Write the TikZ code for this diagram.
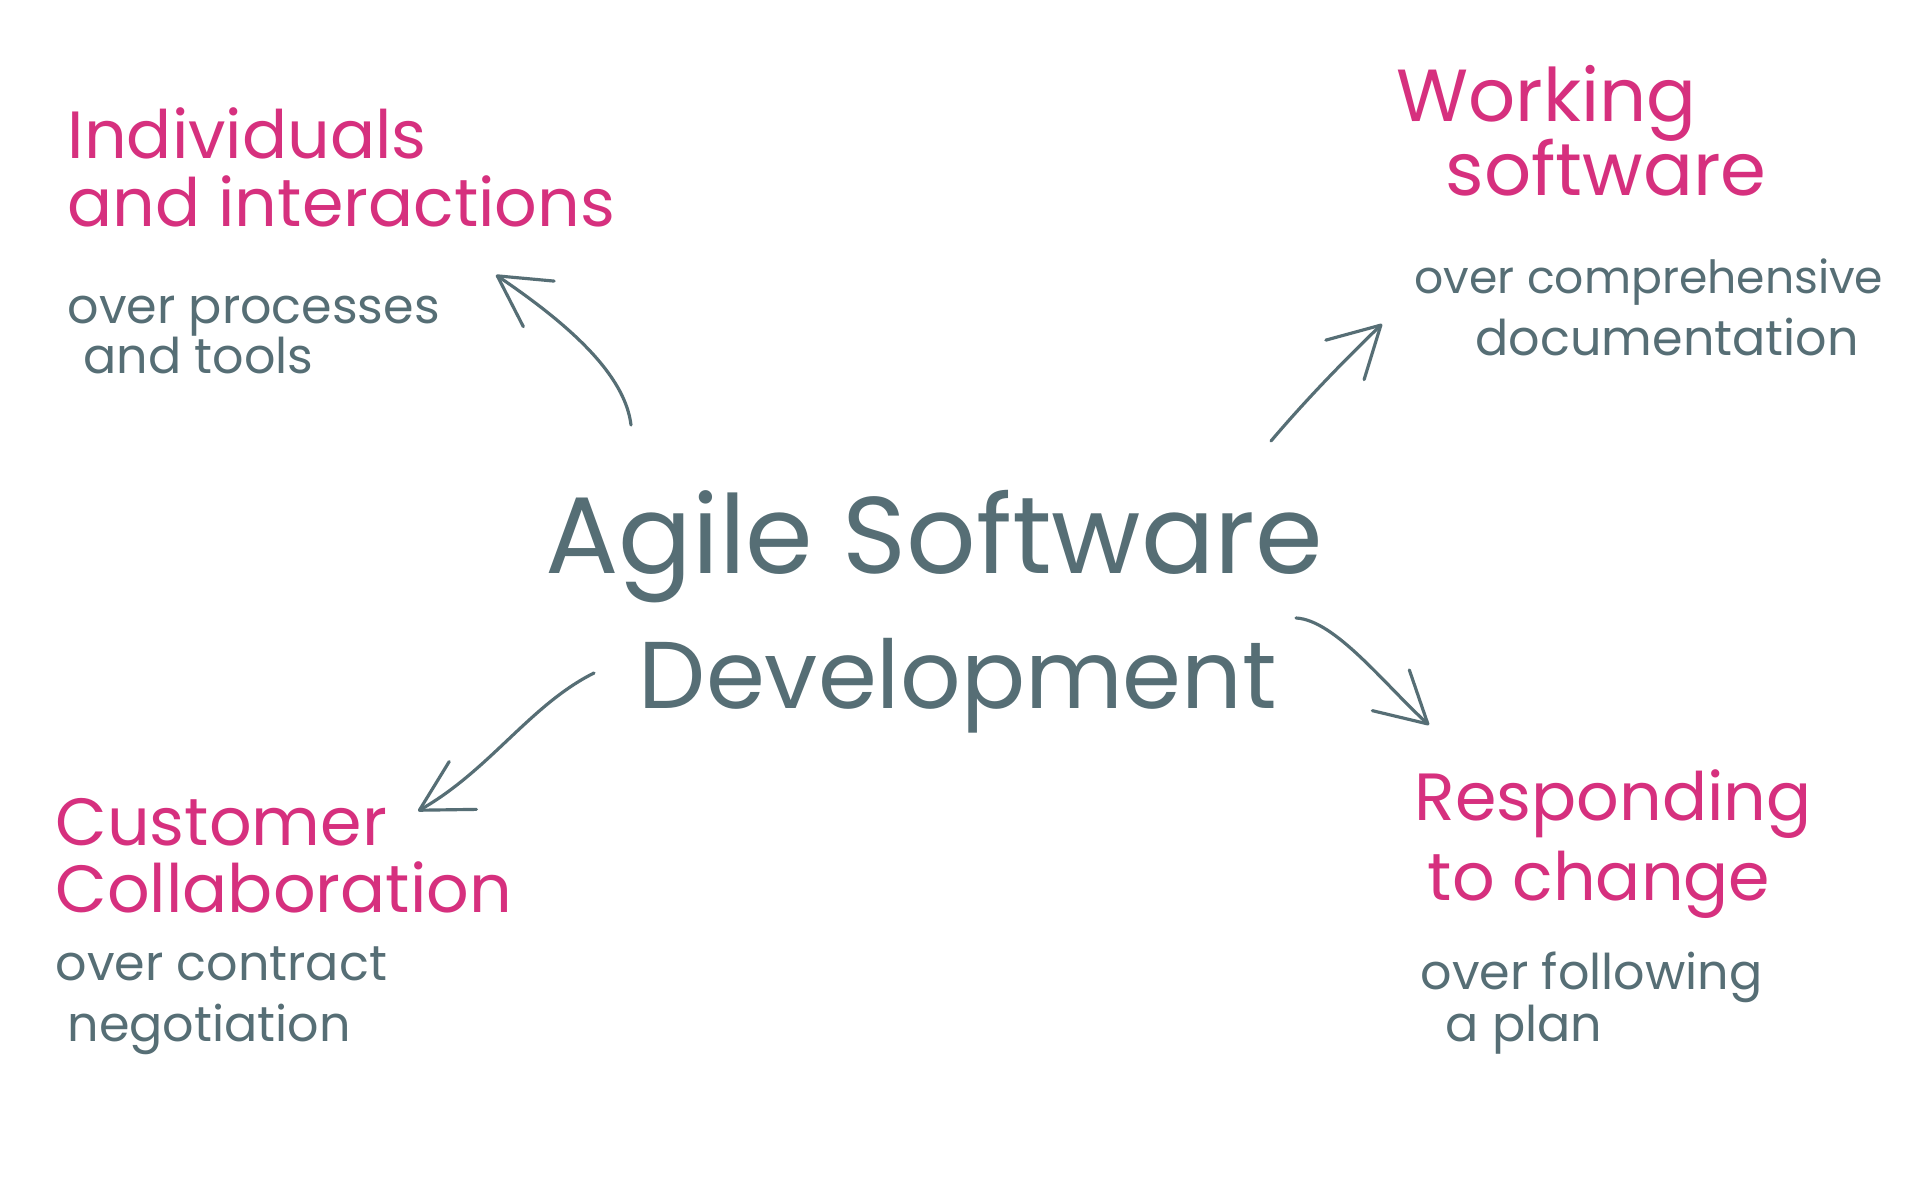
\documentclass[tikz,border=0pt]{standalone}
\usepackage{fontspec}
\setmainfont{Poppins}
\usetikzlibrary{arrows.meta}

\definecolor{slate}{HTML}{566E75}
\definecolor{berry}{HTML}{D6307E}

\tikzset{
  heading/.style={text=berry,font=\fontsize{19}{23}\selectfont,anchor=base west,inner sep=0pt},
  note/.style={text=slate,font=\fontsize{14}{17}\selectfont,anchor=base west,inner sep=0pt},
  bigtext/.style={text=slate,font=\fontsize{31}{37}\selectfont,anchor=base,inner sep=0pt},
  pointer/.style={draw=slate,line width=0.9pt,line cap=round,
    -{Straight Barb[length=5mm,width=5.5mm,round]}}
}

\begin{document}
\begin{tikzpicture}
\fill[white] (0,0) rectangle (19.2,12);
\useasboundingbox (0,0) rectangle (19.2,12);

% centre
\node[bigtext] (agile) at (9.34,6.27) {Agile Software};
\node[bigtext,font=\fontsize{27}{32}\selectfont] (devel) at (9.58,4.92) {Development};

% top left
\node[heading] (ind1) at (0.67,10.41) {Individuals};
\node[heading] (ind2) at (0.67,9.73) {and interactions};
\node[note] (proc1) at (0.67,8.76) {over processes};
\node[note] (proc2) at (0.83,8.27) {and tools};

% top right
\node[heading,font=\fontsize{21}{25}\selectfont] (work1) at (13.96,10.78) {Working};
\node[heading,font=\fontsize{21}{25}\selectfont] (work2) at (14.45,10.04) {software};
\node[note,font=\fontsize{13}{16}\selectfont] (doc1) at (14.14,9.06) {over comprehensive};
\node[note] (doc2) at (14.75,8.45) {documentation};

% bottom left
\node[heading] (cust1) at (0.55,3.55) {Customer};
\node[heading] (cust2) at (0.55,2.88) {Collaboration};
\node[note] (neg1) at (0.55,2.20) {over contract};
\node[note] (neg2) at (0.67,1.59) {negotiation};

% bottom right
\node[heading] (resp1) at (14.14,3.80) {Responding};
\node[heading] (resp2) at (14.27,3.00) {to change};
\node[note] (plan1) at (14.20,2.11) {over following};
\node[note] (plan2) at (14.45,1.59) {a plan};

% arrows
\coordinate (tl-a) at (6.31,7.75);
\coordinate (tl-b) at (4.96,9.25);
\coordinate (tr-a) at (12.71,7.59);
\coordinate (tr-b) at (13.82,8.76);
\coordinate (bl-a) at (5.94,5.27);
\coordinate (bl-b) at (4.18,3.89);
\coordinate (br-a) at (12.96,5.82);
\coordinate (br-b) at (14.29,4.75);

\draw[pointer] (tl-a) .. controls (6.25,8.25) and (5.7,8.75) .. (tl-b);
\draw[pointer] (tr-a) .. controls (13.1,8.05) and (13.5,8.45) .. (tr-b);
\draw[pointer] (bl-a) .. controls (5.3,4.95) and (4.9,4.3) .. (bl-b);
\draw[pointer] (br-a) .. controls (13.35,5.8) and (13.85,5.15) .. (br-b);
\end{tikzpicture}
\end{document}
